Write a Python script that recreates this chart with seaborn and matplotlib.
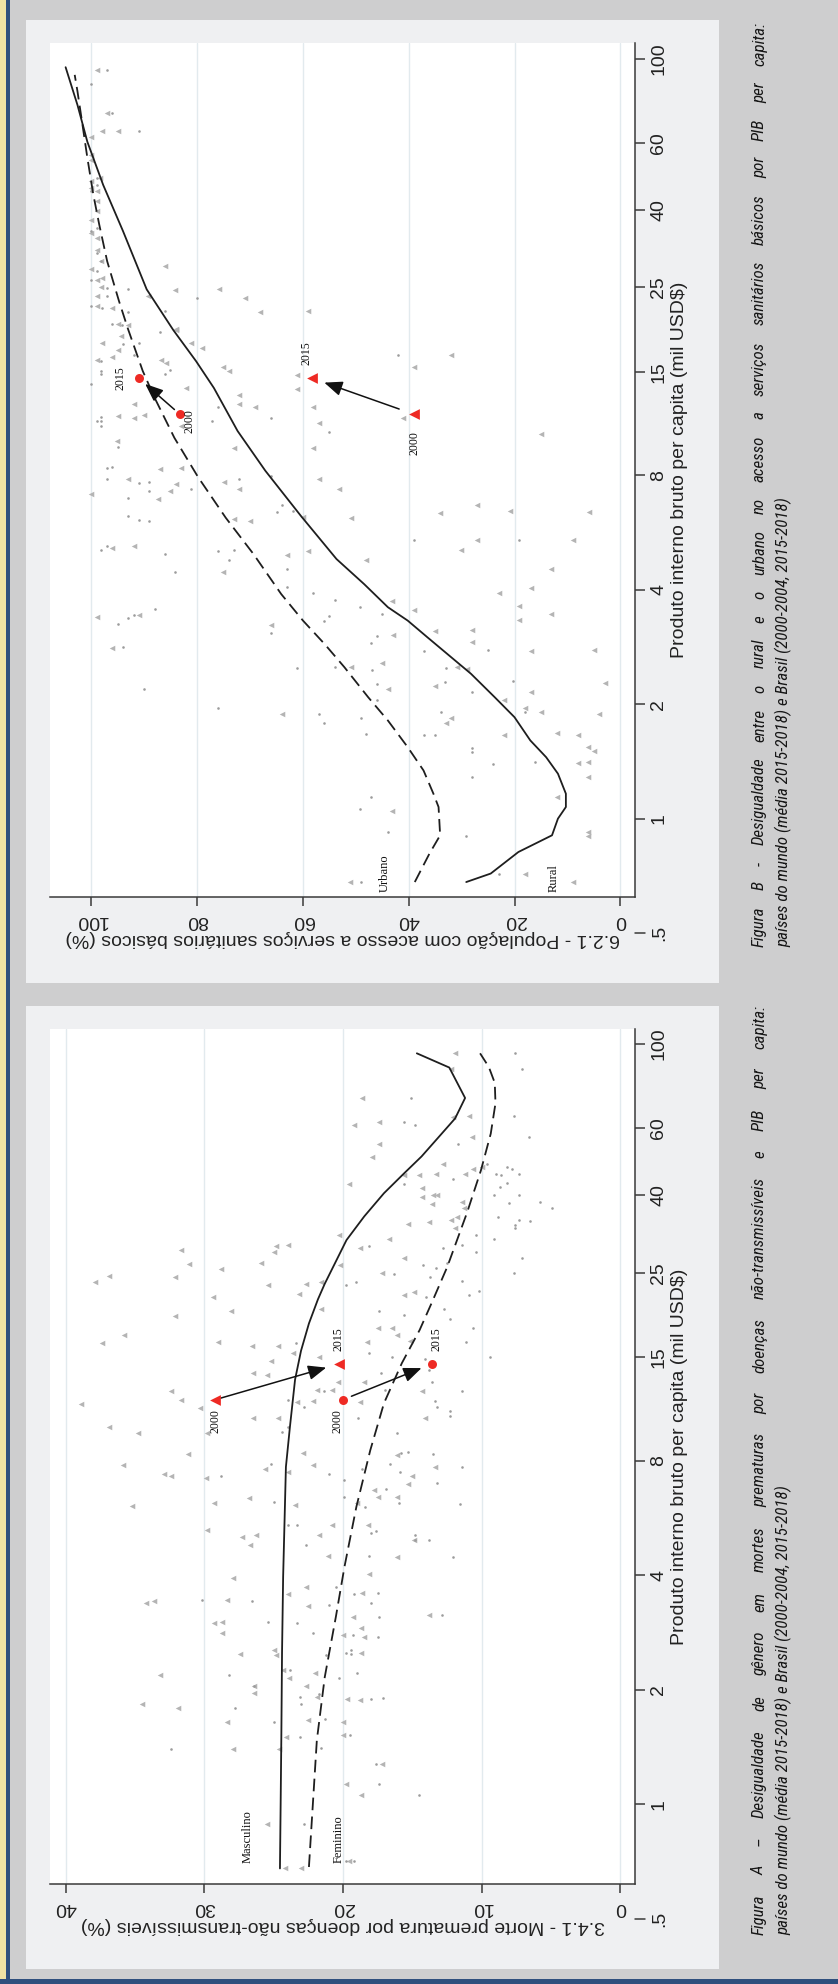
import pandas as pd
import seaborn as sns
import matplotlib.pyplot as plt
from matplotlib import transforms, font_manager
from matplotlib.patches import Rectangle
from matplotlib.ticker import FixedLocator, FixedFormatter, NullLocator

# ---------------- dados (pct, PIB em mil USD$) ----------------
# Figura A - mortes prematuras por DNT
a_masc = [(11.9,94.5),(12.2,85.8),(18.6,72.0),(19.2,61.4),(17.4,62.5),(12.1,64.4),(10.9,64.8),(17.4,54.7),
          (10.7,56.9),(17.9,50.3),(12.8,48.3),(15.6,45.3),(14.5,45.1),(13.3,45.5),(11.2,45.6),(10.6,46.8),
          (10.0,47.6),(19.6,42.8),(14.3,41.9),(14.3,39.7),(13.5,40.0),(13.2,40.0),(13.6,38.0),(11.4,38.3),
          (11.3,37.0),(15.3,33.7),(13.8,34.1),(12.2,34.5),(11.8,35.0),(11.9,32.8),(20.3,31.5),(16.7,30.6),
          (18.8,29.1),(24.8,29.5),(24.0,29.6),(25.0,28.3),(31.7,28.7),(31.1,26.4),(25.9,26.5),(28.8,25.6),
          (32.1,24.4),(36.9,24.6),(37.9,23.7),(25.4,23.2),(22.7,23.4),(21.6,23.7),(20.2,26.2),(15.6,27.4),
          (17.2,25.0),(29.4,21.6),(23.2,22.0),(28.1,19.9),(21.6,20.1),(32.1,19.3),(14.9,22.3),(15.6,21.8),
          (35.8,17.2),(37.4,16.3),(29.0,16.4),(26.6,16.1),(24.7,16.1),(23.6,15.4),(21.7,15.0),(25.2,14.7),
          (26.5,13.6),(25.5,13.5),(32.4,12.2),(31.7,11.6),(38.9,11.3),(30.3,11.0),(26.5,10.4),(24.7,10.4),
          (23.3,11.4),(22.2,11.5),(21.9,12.3),(20.8,12.3),(20.4,12.9),(18.3,16.4),(17.5,17.9),(16.5,17.9),
          (16.1,17.2),(15.2,16.5),(18.5,12.9),(14.3,12.2),(14.1,10.4),(18.8,11.4),(36.9,9.84),(34.8,9.5),
          (29.8,9.5),(31.2,8.37),(35.9,7.8),(32.9,7.4),(32.4,7.3),(29.9,7.2),(25.6,7.6),(22.9,8.4),(22.2,7.8),
          (24.0,7.5),(15.0,7.3),(13.4,7.7),(16.1,8.3),(15.3,6.95),(26.8,6.4),(29.3,6.2),(35.2,6.1),(23.5,6.12),
          (17.8,6.7),(17.5,6.44),(16.1,6.44),(19.0,6.2),(29.8,5.26),(27.3,5.05),(26.3,5.1),(26.7,4.81),
          (21.7,5.1),(20.8,5.43),(18.2,5.43),(21.1,4.5),(16.1,4.46),(14.9,4.97),(27.9,3.93),(22.7,3.73),
          (18.1,4.03),(24.0,3.57),(18.6,3.6),(34.2,3.38),(33.6,3.42),(28.4,3.45),(22.5,3.32),(19.3,3.1),
          (13.8,3.15),(29.3,3.0),(28.7,3.02),(28.7,2.83),(27.4,2.49),(25.0,2.55),(24.8,2.47),(33.2,2.19),
          (24.3,2.26),(23.9,2.15),(22.0,2.22),(18.7,2.9),(20.0,2.78),(18.5,2.75),(18.7,2.5),(22.7,2.05),
          (26.4,2.05),(26.4,1.96),(34.5,1.84),(31.9,1.79),(28.4,1.65),(21.9,1.91),(19.7,1.89),(18.8,1.88),
          (22.5,1.67),(20.0,1.65),(24.1,1.5),(20.0,1.52),(27.9,1.4),(24.6,1.4),(17.2,1.28),(19.8,1.13),
          (18.7,1.06),(25.5,0.89),(19.6,0.71),(24.2,0.68),(23.0,0.68)]
a_fem = [(7.6,94.5),(7.1,85.8),(15.1,72.0),(7.7,64.8),(15.6,62.5),(14.8,61.4),(6.6,56.9),(11.7,54.7),(8.2,47.6),
         (8.6,45.3),(9.0,45.5),(7.8,46.8),(7.3,45.6),(9.6,48.3),(12.1,44.1),(15.6,42.8),(8.7,42.0),(8.2,43.1),
         (9.1,40.0),(7.3,40.0),(8.0,38.1),(5.8,38.5),(4.9,37.1),(8.8,35.1),(7.6,33.4),(7.3,34.5),(6.5,34.2),
         (7.6,32.8),(10.4,31.5),(9.1,30.6),(18.1,29.4),(12.8,29.0),(11.4,29.6),(10.4,28.3),(7.1,27.4),
         (14.2,26.2),(13.3,25.7),(12.5,26.5),(13.7,24.4),(16.3,24.9),(19.8,23.2),(19.1,23.7),(11.4,23.8),
         (7.7,25.0),(14.0,21.6),(10.2,22.4),(10.9,21.9),(17.4,19.9),(15.6,19.4),(12.7,20.1),(12.3,18.9),
         (10.6,17.9),(11.1,16.4),(9.4,15.0),(18.1,15.4),(16.5,15.0),(14.1,14.8),(13.8,13.9),(13.6,12.9),
         (17.3,13.6),(17.0,12.3),(11.4,12.2),(13.4,11.5),(13.2,11.1),(12.3,10.8),(12.3,10.5),(23.4,16.3),
         (24.0,11.6),(22.8,11.1),(21.4,12.2),(24.4,9.55),(18.9,10.4),(24.0,9.84),(16.1,9.5),(15.8,8.4),
         (15.3,8.45),(13.5,8.35),(16.6,7.84),(15.9,7.5),(11.4,7.7),(13.2,6.98),(28.8,7.3),(25.2,7.85),
         (21.0,7.4),(19.9,7.15),(18.6,7.6),(16.9,6.75),(16.0,6.2),(11.6,6.17),(25.0,6.25),(19.9,6.42),
         (18.4,6.05),(24.0,5.43),(23.3,5.43),(18.0,5.16),(17.6,5.25),(22.7,4.81),(14.8,5.1),(14.8,4.95),
         (13.8,4.95),(12.1,4.46),(18.1,4.5),(20.5,3.74),(19.2,3.57),(17.5,3.6),(18.0,3.38),(21.0,3.35),
         (30.2,3.45),(26.6,3.42),(12.9,3.15),(17.4,3.1),(25.4,3.02),(23.3,3.0),(22.2,2.83),(19.3,2.78),
         (17.5,2.75),(21.2,2.47),(19.8,2.5),(19.4,2.55),(19.4,2.49),(28.2,2.19),(23.8,2.26),(20.3,2.15),
         (19.0,2.22),(26.4,2.05),(23.1,1.91),(23.0,1.84),(21.7,1.95),(18.0,1.89),(17.1,1.9),(27.8,1.79),
         (25.0,1.65),(21.3,1.68),(23.1,1.5),(19.5,1.52),(32.4,1.4),(21.6,1.41),(17.6,1.28),(17.4,1.13),
         (14.5,1.06),(22.8,0.89),(19.2,0.71),(19.8,0.71)]
a_masc_fit = [(24.55,0.678),(24.5,1.0),(24.45,1.5),(24.4,2.5),(24.32,3.97),(24.12,7.72),(23.83,9.84),
              (23.46,13.1),(23.03,15.6),(22.46,18.4),(21.81,21.3),(21.32,23.4),(19.75,30.5),(18.47,35.2),
              (17.05,40.5),(15.62,45.6),(14.34,50.6),(13.05,57.2),(11.92,63.7),(11.2,72.1),(12.34,86.7),
              (14.68,94.5)]
a_fem_fit = [(22.46,0.684),(21.89,1.474),(21.32,2.16),(20.52,3.11),(19.9,4.21),(19.04,6.06),(18.04,8.53),
             (17.05,11.35),(15.76,14.47),(14.48,17.68),(13.62,20.8),(12.49,25.9),(11.06,36.0),(10.06,46.5),
             (9.35,58.1),(9.01,69.8),(9.06,79.0),(9.49,87.0),(10.12,94.5)]
a_br_masc = [(29.2,11.6),(20.3,14.4)]   # 2000, 2015
a_br_fem = [(20.0,11.6),(13.6,14.4)]

# Figura B - acesso a servicos sanitarios basicos
b_rural = [(99.0,93.4),(97.0,71.9),(98.0,64.5),(95.0,64.3),(100.0,62.1),(100.0,55.9),(100.0,54.2),(98.3,48.5),
           (100.0,47.5),(100.0,45.6),(99.0,44.7),(99.0,42.1),(99.0,39.6),(100.0,37.7),(100.0,34.8),(99.0,33.7),
           (99.0,31.4),(98.1,29.4),(100.0,28.0),(99.0,26.2),(98.0,26.5),(98.1,25.0),(99.0,23.7),(99.0,22.3),
           (96.0,22.0),(95.0,20.0),(93.1,19.9),(89.2,23.7),(84.1,24.6),(86.0,28.5),(75.9,24.8),(71.0,23.4),
           (68.1,21.5),(59.0,21.7),(84.0,19.4),(32.0,16.6),(39.1,15.4),(61.1,14.7),(61.1,13.5),(72.0,13.0),
           (72.0,12.3),(69.0,12.1),(58.1,12.1),(57.0,11.0),(41.1,11.3),(15.0,10.3),(74.0,15.1),(75.1,15.4),
           (79.1,17.3),(81.1,17.9),(83.9,19.3),(86.9,16.1),(85.8,15.8),(73.1,9.47),(58.1,9.47),(57.0,7.82),
           (53.1,7.36),(75.0,7.67),(72.0,7.36),(85.1,7.3),(83.9,7.59),(87.3,6.95),(93.1,7.82),(100.0,7.14),
           (73.1,6.14),(70.1,6.08),(60.0,6.22),(51.0,6.18),(34.1,6.39),(27.1,6.67),(20.9,6.45),(6.0,6.41),
           (27.1,5.42),(30.1,5.09),(9.0,5.4),(13.1,4.53),(17.0,4.05),(23.0,3.93),(19.1,3.62),(13.1,3.45),
           (39.1,3.55),(43.2,3.73),(48.1,4.8),(59.0,5.07),(63.0,4.95),(75.1,4.46),(92.0,5.23),(96.0,5.14),
           (98.0,17.9),(96.0,16.4),(95.0,17.1),(99.0,16.1),(94.4,18.6),(92.0,12.3),(95.0,11.5),(92.0,11.35),
           (90.1,11.55),(95.1,9.86),(87.1,8.3),(83.0,8.39),(83.0,10.8),(82.1,13.55),(99.0,3.39),(91.0,3.44),
           (96.0,2.82),(66.0,3.24),(64.0,1.89),(43.1,1.05),(35.0,3.11),(28.1,3.13),(28.1,2.91),(19.1,3.34),
           (17.0,2.76),(5.1,2.78),(3.0,2.28),(17.0,2.16),(15.0,1.91),(18.0,1.95),(22.0,2.05),(22.0,1.66),
           (4.1,1.89),(12.0,1.68),(8.1,1.66),(6.1,1.54),(5.1,1.51),(8.1,1.4),(6.1,1.41),(6.1,1.29),(12.0,1.14),
           (6.1,0.92),(6.1,0.9),(18.0,0.717),(9.0,0.68),(35.0,2.24),(32.0,1.84),(32.9,1.79),(30.9,2.5),
           (29.0,2.48),(45.1,2.56),(44.0,2.2),(43.0,3.05),(50.9,2.5),(51.1,0.68)]
b_urb = [(97.0,93.4),(100.1,85.6),(96.0,71.9),(91.0,64.3),(99.0,48.5),(100.0,44.7),(99.0,46.5),(99.0,35.9),
         (100.0,35.1),(99.0,30.8),(98.1,29.4),(99.0,27.6),(100.1,26.2),(97.0,24.9),(97.0,23.7),(100.0,22.3),
         (98.0,22.1),(93.1,24.8),(93.1,21.5),(86.0,21.7),(80.0,23.5),(96.0,20.0),(94.2,19.9),(42.1,16.6),
         (98.1,16.0),(98.1,15.1),(98.1,14.8),(100.0,13.9),(94.0,17.7),(92.0,16.6),(91.0,17.9),(87.1,19.1),
         (85.1,15.2),(86.0,14.8),(76.1,12.1),(77.1,11.1),(66.0,11.35),(55.1,10.4),(98.1,11.4),(98.1,11.1),
         (98.1,10.8),(98.9,11.1),(95.0,9.5),(97.0,8.39),(96.0,8.42),(97.0,7.82),(91.0,7.62),(89.0,7.67),
         (89.0,7.3),(93.1,6.97),(93.1,6.26),(91.0,6.12),(89.0,6.08),(81.1,7.36),(66.1,7.96),(72.0,7.82),
         (64.0,6.69),(65.0,6.41),(61.9,6.45),(39.1,5.42),(19.1,5.42),(98.1,5.1),(97.0,5.22),(86.0,4.97),
         (76.1,5.07),(73.1,5.09),(74.0,4.8),(84.1,4.47),(63.1,4.54),(63.0,4.06),(58.1,3.93),(54.0,3.75),
         (55.1,3.42),(49.2,3.61),(45.1,3.46),(88.0,3.56),(92.0,3.44),(93.1,3.38),(95.0,3.25),(94.0,2.83),
         (90.1,2.2),(76.1,1.95),(66.1,3.08),(61.1,2.49),(57.0,1.89),(56.0,1.79),(56.1,3.32),(54.0,2.5),
         (47.1,2.9),(46.0,3.03),(46.9,2.46),(46.0,2.26),(46.0,2.05),(49.0,1.84),(48.1,1.67),(37.1,2.76),
         (37.2,1.66),(35.1,1.66),(34.0,1.91),(33.1,2.29),(28.0,2.15),(28.0,1.53),(28.0,1.5),(25.0,2.78),
         (24.0,1.39),(28.0,1.29),(16.1,1.41),(18.0,1.91),(47.1,1.14),(49.2,1.06),(44.0,0.92),(29.2,0.9),
         (49.0,0.68),(23.0,0.717),(20.4,2.3),(33.0,2.49)]
b_urb_fit = [(38.87,0.681),(36.1,0.809),(34.08,0.904),(34.38,1.073),(35.35,1.163),(37.22,1.339),(40.21,1.542),
             (43.95,1.812),(47.68,2.087),(52.17,2.503),(55.91,2.88),(60.0,3.32),(64.12,3.9),(69.36,4.97),
             (74.59,6.19),(79.82,7.92),(84.3,10.05),(88.04,12.81),(90.28,15.07),(93.1,19.5),(94.76,23.0),
             (97.0,29.3),(98.5,36.6),(99.62,43.9),(100.74,54.8),(101.86,69.9),(102.61,82.0),(103.13,90.6)]
b_rural_fit = [(29.15,0.681),(24.52,0.717),(19.29,0.817),(12.94,0.904),(11.82,1.0),(10.32,1.073),(10.32,1.163),
               (11.82,1.313),(14.05,1.451),(17.04,1.606),(20.03,1.849),(23.77,2.087),(28.25,2.405),
               (31.24,2.606),(36.48,3.0),(40.21,3.32),(43.95,3.6),(48.43,4.14),(53.66,4.82),(60.39,6.26),
               (67.11,8.23),(72.35,10.47),(76.83,13.59),(80.19,15.98),(84.5,19.3),(89.53,24.7),(94.02,35.2),
               (97.75,46.5),(100.74,60.4),(102.61,75.5),(104.85,94.9)]
b_br_rural = [(39.1,11.6),(58.2,14.4)]   # 2000, 2015
b_br_urb = [(83.3,11.6),(91.0,14.4)]

gdp_ticks = [1, 2, 4, 8, 15, 25, 40, 60, 100]
gdp_tick_labels = ["1", "2", "4", "8", "15", "25", "40", "60", "100"]
a_pct_ticks = [0, 10, 20, 30, 40]
b_pct_ticks = [0, 20, 40, 60, 80, 100]
gdp_title = "Produto interno bruto per capita (mil USD$)"
a_title = "3.4.1 - Morte prematura por doenças não-transmissíveis (%)"
b_title = "6.2.1 - População com acesso a serviços sanitários básicos (%)"
a_cap1 = ("Figura A – Desigualdade de gênero em mortes prematuras por doenças "
          "não-transmissíveis e PIB per capita:")
a_cap2 = "países do mundo (média 2015-2018) e Brasil (2000-2004, 2015-2018)"
b_cap1 = ("Figura B - Desigualdade entre o rural e o urbano no acesso a serviços "
          "sanitários básicos por PIB per capita:")
b_cap2 = "países do mundo (média 2015-2018) e Brasil (2000-2004, 2015-2018)"

# ---------------- estilo ----------------
sns.set_style("white")
plt.rcParams["font.family"] = ["Liberation Sans", "DejaVu Sans"]
serif = ["Liberation Serif", "DejaVu Serif"]
axis_col = "#3a3a3a"
grey_tri = "#b4b4b4"
grey_dot = "#9c9c9c"
red = "#ee2a24"
ink = "#1e1e1e"

# legenda: fonte condensada se existir, senao Liberation Sans
try:
    font_manager.findfont(font_manager.FontProperties(family="Roboto Condensed"),
                          fallback_to_default=False)
    cap_font, cap_size, cap_fit = ["Roboto Condensed", "Liberation Sans"], 12.5, True
except ValueError:
    cap_font, cap_size, cap_fit = ["Liberation Sans", "DejaVu Sans"], 12, False

W, H = 838, 1984
fig = plt.figure(figsize=(W / 100, H / 100), dpi=100)
fig.patch.set_facecolor("#cececf")


def px_rect(x0, y0, x1, y1):
    return [x0 / W, 1 - y1 / H, (x1 - x0) / W, (y1 - y0) / H]


def box(x0, y0, x1, y1, color):
    l, b, w, h = px_rect(x0, y0, x1, y1)
    fig.add_artist(Rectangle((l, b), w, h, transform=fig.transFigure,
                             facecolor=color, edgecolor="none", zorder=-5))


# moldura da pagina
box(0, 0, 6, H, "#efe2a4")
box(6, 0, 10, H, "#2f4f7d")
box(0, H - 5, W, H, "#2f4f7d")
# caixas claras dos paineis
box(26, 20, 719, 983, "#eff0f2")
box(26, 1006, 719, 1969, "#eff0f2")


def df_of(pairs):
    return pd.DataFrame(pairs, columns=["pct", "gdp"])


def setup(ax, xlim, ylim, xticks, xlabel, width_px):
    ax.set_facecolor("white")
    ax.set_yscale("log")
    ax.set_xlim(*xlim)
    ax.set_ylim(*ylim)
    ax.xaxis.set_major_locator(FixedLocator(xticks))
    ax.yaxis.set_major_locator(FixedLocator(gdp_ticks))
    ax.yaxis.set_major_formatter(FixedFormatter(gdp_tick_labels))
    ax.yaxis.set_minor_locator(NullLocator())
    ax.yaxis.tick_right()
    ax.yaxis.set_label_position("right")
    for s in ["left", "top"]:
        ax.spines[s].set_visible(False)
    for s in ["right", "bottom"]:
        ax.spines[s].set_color(axis_col)
        ax.spines[s].set_linewidth(1.1)
    ax.tick_params(axis="x", bottom=True, direction="out", length=6.5, width=1.1,
                   color=axis_col, pad=4, labelsize=14, labelrotation=180, labelcolor="#222222")
    ax.tick_params(axis="y", which="major", right=True, left=False, direction="out", length=7,
                   width=1.1, color=axis_col, pad=4, labelsize=14, labelrotation=90,
                   labelcolor="#222222")
    plt.setp(ax.get_yticklabels(), va="center")
    ax.grid(axis="x", color="#e2eaee", lw=1.0)
    ax.grid(axis="y", visible=False)
    ax.set_axisbelow(True)
    ax.set_xlabel(xlabel, rotation=180, fontsize=14, labelpad=1, color="#222222")
    ax.set_ylabel(gdp_title, rotation=90, fontsize=14, labelpad=3, color="#222222")
    # tick ".5" fica fora da caixa do grafico
    tr = transforms.blended_transform_factory(ax.transAxes, ax.transData)
    ax.plot([1, 1 + 10 / width_px], [0.5, 0.5], transform=tr, color=axis_col, lw=1.1, clip_on=False)
    ax.text(1 + 16 / width_px, 0.5, ".5", transform=tr, rotation=90, ha="left", va="center",
            fontsize=14, color="#222222", clip_on=False)


def scatter_fit(ax, tri, dot, fit_solid, fit_dash):
    sns.scatterplot(data=df_of(tri), x="pct", y="gdp", marker="<", s=16, color=grey_tri,
                    linewidth=0, ax=ax, legend=False, zorder=2)
    sns.scatterplot(data=df_of(dot), x="pct", y="gdp", marker="o", s=3.5, color=grey_dot,
                    linewidth=0, ax=ax, legend=False, zorder=2)
    sns.lineplot(data=df_of(fit_solid), x="pct", y="gdp", sort=False, estimator=None,
                 color=ink, lw=1.3, ax=ax, legend=False, zorder=3)
    sns.lineplot(data=df_of(fit_dash), x="pct", y="gdp", sort=False, estimator=None,
                 color=ink, lw=1.3, linestyle=(0, (7, 3.5)), ax=ax, legend=False, zorder=3)


def brasil(ax, pts, marker, size, shrink_a, shrink_b, lab00, lab15):
    d = df_of(pts)
    sns.scatterplot(data=d, x="pct", y="gdp", marker=marker, s=size, color=red,
                    linewidth=0, ax=ax, legend=False, zorder=5)
    (p0, g0), (p1, g1) = pts
    ax.annotate("", xy=(p1, g1), xytext=(p0, g0),
                arrowprops=dict(arrowstyle="-|>,head_length=1.1,head_width=0.45", mutation_scale=10,
                                color="#111111", lw=1.1, shrinkA=shrink_a, shrinkB=shrink_b), zorder=4)
    for (p, g), (txt, off, va) in zip(pts, [("2000",) + lab00, ("2015",) + lab15]):
        ax.annotate(txt, xy=(p, g), xytext=off, textcoords="offset points", rotation=90,
                    ha="center", va=va, fontsize=8.5, family=serif, color="#111111", zorder=6)


def legenda(line1, line2, y_start, x1, x2, len1, len2):
    # linha 1 justificada (palavra a palavra), linha 2 alinhada no inicio
    r = fig.canvas.get_renderer()
    kw = dict(rotation=90, rotation_mode="anchor", ha="left", va="baseline",
              family=cap_font, style="italic", color="#161616")
    t2 = fig.text(x2 / W, 1 - y_start / H, line2, fontsize=cap_size, **kw)
    fs = cap_size
    if cap_fit:
        fs = cap_size * len2 / t2.get_window_extent(r).height
        t2.set_fontsize(fs)
    words = line1.split(" ")
    ts = [fig.text(0, 0, w, fontsize=fs, **kw) for w in words]
    ws = [t.get_window_extent(r).height for t in ts]
    gap = (len1 - sum(ws)) / (len(words) - 1)
    y = y_start
    for t, w in zip(ts, ws):
        t.set_position((x1 / W, 1 - y / H))
        y -= w + gap


# ---------------- Figura A (embaixo) ----------------
axA = fig.add_axes(px_rect(50, 1029, 635, 1884))
setup(axA, (41.13, -1.05), (0.617, 109.5), a_pct_ticks, a_title, 585)
scatter_fit(axA, a_masc, a_fem, a_masc_fit, a_fem_fit)
brasil(axA, a_br_masc, "<", 60, 4, 9.5, ((0, -6.5), "top"), ((0, 9.5), "bottom"))
brasil(axA, a_br_fem, "o", 42, 6.5, 8, ((-4, -6.5), "top"), ((3.5, 9), "bottom"))
axA.text(26.9, 0.70, "Masculino", rotation=90, ha="center", va="bottom", fontsize=9,
         family=serif, color="#111111")
axA.text(20.3, 0.70, "Feminino", rotation=90, ha="center", va="bottom", fontsize=9,
         family=serif, color="#111111")

# ---------------- Figura B (em cima) ----------------
axB = fig.add_axes(px_rect(50, 43, 635, 897))
setup(axB, (107.8, -2.74), (0.622, 109.9), b_pct_ticks, b_title, 585)
scatter_fit(axB, b_rural, b_urb, b_rural_fit, b_urb_fit)
brasil(axB, b_br_rural, "<", 60, 11, 9, ((1, -12.5), "top"), ((-4, 9.5), "bottom"))
brasil(axB, b_br_urb, "o", 42, 5, 6, ((7, -5), "center"), ((-13, 0), "center"))
axB.text(44.5, 0.64, "Urbano", rotation=90, ha="center", va="bottom", fontsize=9,
         family=serif, color="#111111")
axB.text(12.6, 0.64, "Rural", rotation=90, ha="center", va="bottom", fontsize=9,
         family=serif, color="#111111")

# ---------------- legendas ----------------
legenda(a_cap1, a_cap2, 1935, 764, 789, 930, 452)
legenda(b_cap1, b_cap2, 947, 764, 789, 925, 452)

fig.savefig("out.png", dpi=100, facecolor=fig.get_facecolor())
